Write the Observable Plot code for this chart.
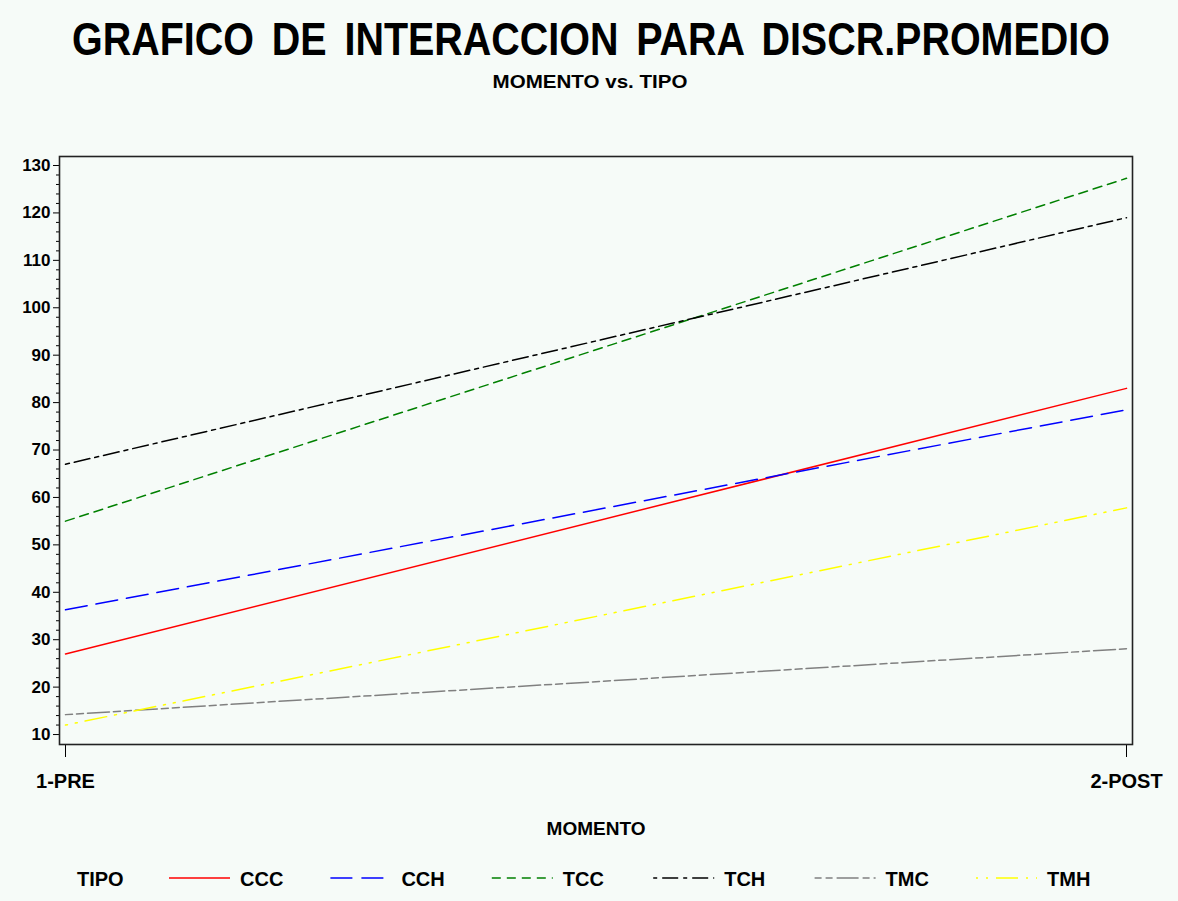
<!DOCTYPE html>
<html><head><meta charset="utf-8">
<script src="https://cdn.jsdelivr.net/npm/d3@7"></script>
<script src="https://cdn.jsdelivr.net/npm/@observablehq/plot@0.6"></script>
<style>
html,body{margin:0;padding:0;background:#f6fbf8;}
#page{position:relative;width:1178px;height:901px;background:#f6fbf8;font-family:"Liberation Sans",Arial,Helvetica,sans-serif;font-weight:bold;overflow:hidden;}
#head{position:absolute;left:0;top:0;}
#chart{position:absolute;left:0;top:110px;}
#legend{position:absolute;left:0;top:858px;}
</style></head><body>
<div id="page">
<svg id="head" width="1178" height="110" font-family="Liberation Sans, Arial, sans-serif" font-weight="bold">
 <text id="t1" text-anchor="middle" font-size="46" word-spacing="8">GRAFICO DE INTERACCION PARA DISCR.PROMEDIO</text>
 <text id="t2" text-anchor="middle" font-size="18">MOMENTO vs. TIPO</text>
</svg>
<div id="chart"></div>
<svg id="legend" width="1178" height="43" font-family="Liberation Sans, Arial, sans-serif" font-weight="bold"></svg>
</div>
<script>
const momento = ["1-PRE", "2-POST"];
const tipos = ["CCC", "CCH", "TCC", "TCH", "TMC", "TMH"];
const valoresPre = [27, 36.3, 55, 67, 14.2, 12];
const valoresPost = [83, 78.5, 127.3, 119, 28.1, 57.8];
const colores = ["#ff0000", "#0000ff", "#008000", "#000000", "#808080", "#ffff00"];
const trazos = [null, "22,9", "9,6", "4,5,16,5", "7,4,7,4,22,4", "2,8,2,8,22,8"];
const yTicks = d3.range(10, 131, 10);
const yMinor = d3.range(10, 131, 2).filter(v => v % 10 !== 0);

// Fit title texts horizontally with a scale transform
function fit(id, cx, baseline, w) {
  const el = document.getElementById(id);
  const len = el.getComputedTextLength();
  const sx = w / len;
  el.setAttribute("transform", `translate(${cx},${baseline}) scale(${sx},1)`);
}
fit("t1", 591, 55, 1038);
fit("t2", 590, 88, 195);

const data = [];
tipos.forEach((t, i) => {
  data.push({tipo: t, momento: momento[0], valor: valoresPre[i]});
  data.push({tipo: t, momento: momento[1], valor: valoresPost[i]});
});

const font = "Liberation Sans, Arial, Helvetica, sans-serif";
const lines = tipos.map((t, i) => Plot.line(data.filter(d => d.tipo === t), {
  x: "momento", y: "valor", stroke: colores[i], strokeWidth: 1.5,
  strokeDasharray: trazos[i] || undefined
}));

const chart = Plot.plot({
  width: 1178, height: 740,
  marginTop: 46, marginBottom: 106, marginLeft: 59, marginRight: 46,
  style: {background: "transparent", fontFamily: font, fontWeight: "bold", color: "#000"},
  x: {type: "point", domain: momento, padding: 0, inset: 6},
  y: {domain: [7.9, 131.9]},
  marks: [
    Plot.axisY(yMinor, {tickSize: 3, text: null, label: null, stroke: "#000"}),
    Plot.axisY(yTicks, {tickSize: 6, tickPadding: 3, fontSize: 17, fontWeight: "bold", label: null, stroke: "#000"}),
    Plot.axisX({tickSize: 13, tickPadding: 16, fontSize: 20, fontWeight: "bold", label: null, stroke: "#000"}),
    ...lines,
    Plot.frame({stroke: "#222", strokeWidth: 1.6}),
    Plot.text(["MOMENTO"], {frameAnchor: "bottom", dy: 90, fontSize: 19, fontWeight: "bold", fill: "#000"})
  ]
});
document.getElementById("chart").appendChild(chart);

// Legend
const leg = d3.select("#legend");
leg.append("text").attr("x", 77).attr("y", 28).attr("font-size", 20).text("TIPO");
tipos.forEach((t, i) => {
  const x0 = 169 + i * 161.4;
  leg.append("line").attr("x1", x0).attr("x2", x0 + 61).attr("y1", 20).attr("y2", 20)
    .attr("stroke", colores[i]).attr("stroke-width", 1.5)
    .attr("stroke-dasharray", trazos[i]);
  leg.append("text").attr("x", x0 + 71).attr("y", 28).attr("font-size", 20).text(t);
});
</script>
</body></html>
